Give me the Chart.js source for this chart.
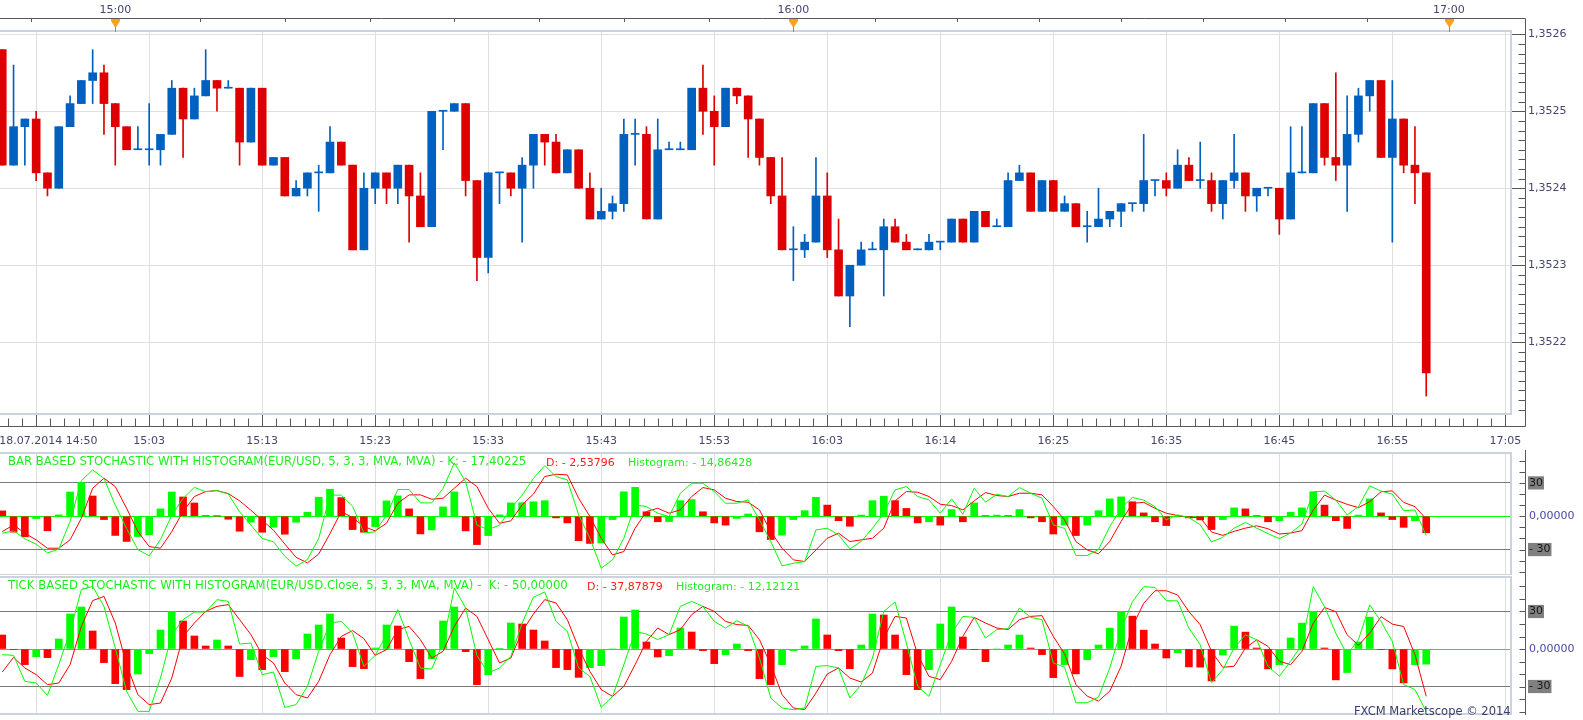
<!DOCTYPE html>
<html>
<head>
<meta charset="utf-8">
<title>EUR/USD - FXCM Marketscope</title>
<script src="https://cdn.jsdelivr.net/npm/chart.js@4.4.1/dist/chart.umd.min.js"></script>
<style>
html,body{margin:0;padding:0;background:#fff;}
body{width:1583px;height:720px;position:relative;overflow:hidden;font-family:"DejaVu Sans",Verdana,sans-serif;}
canvas{position:absolute;left:0;}
.ttl{position:absolute;font-size:11px;line-height:13px;white-space:pre;color:#1ef01e;}
.big{font-size:11.7px;}
.red{color:#ff1c1c;}
#copy{position:absolute;left:1354px;top:705px;font-size:11.5px;line-height:13px;color:#3c3c6e;white-space:pre;}
</style>
</head>
<body>
<canvas id="cMain" width="1583" height="452" style="top:0"></canvas>
<canvas id="cBar" width="1583" height="130" style="top:445px"></canvas>
<canvas id="cTick" width="1583" height="145" style="top:575px"></canvas>
<div class="ttl big" id="t1a" style="left:8px;top:455px"></div>
<div class="ttl red" id="t1b" style="left:546px;top:456px"></div>
<div class="ttl" id="t1c" style="left:628px;top:456px"></div>
<div class="ttl big" id="t2a" style="left:8px;top:579px"></div>
<div class="ttl red" id="t2b" style="left:587px;top:580px"></div>
<div class="ttl" id="t2c" style="left:676px;top:580px"></div>
<div id="copy">FXCM Marketscope © 2014</div>
<script>
// ---------------- data ----------------
const xTickIdx = [3,13,23,33,43,53,63,73,83,93,103,113,123,133];
const xTickLabels = ["       18.07.2014 14:50","15:03","15:13","15:23","15:33","15:43","15:53","16:03","16:14","16:25","16:35","16:45","16:55","17:05"];
const hourIdx = [10,70,128];
const hourLabels = ["15:00","16:00","17:00"];
const priceTicks = [1.3522,1.3523,1.3524,1.3525,1.3526];
const stochTicks = [30,0,-30];

const open = [1.35258,1.35243,1.35248,1.35249,1.35242,1.35240,1.35248,1.35251,1.35254,1.35255,
 1.35251,1.35248,1.35245,1.35245,1.35245,1.35247,1.35253,1.35249,1.35252,1.35254,
 1.35253,1.35253,1.35246,1.35253,1.35243,1.35244,1.35239,1.35240,1.35242,1.35242,
 1.35246,1.35243,1.35232,1.35240,1.35242,1.35240,1.35243,1.35239,1.35235,1.35250,
 1.35250,1.35251,1.35241,1.35231,1.35242,1.35242,1.35240,1.35243,1.35247,1.35246,
 1.35242,1.35245,1.35240,1.35236,1.35237,1.35238,1.35247,1.35247,1.35236,1.35245,
 1.35245,1.35245,1.35253,1.35250,1.35248,1.35253,1.35252,1.35249,1.35244,1.35239,
 1.35232,1.35232,1.35233,1.35239,1.35232,1.35226,1.35230,1.35232,1.35232,1.35235,
 1.35233,1.35232,1.35232,1.35233,1.35233,1.35236,1.35233,1.35237,1.35235,1.35235,
 1.35241,1.35242,1.35237,1.35241,1.35237,1.35238,1.35235,1.35235,1.35236,1.35237,
 1.35238,1.35238,1.35241,1.35241,1.35240,1.35243,1.35241,1.35241,1.35238,1.35241,
 1.35242,1.35239,1.35240,1.35240,1.35236,1.35242,1.35242,1.35251,1.35244,1.35243,
 1.35247,1.35252,1.35254,1.35244,1.35249,1.35243,1.35242];
const high = [1.35258,1.35256,1.35249,1.35250,1.35242,1.35248,1.35252,1.35254,1.35258,1.35256,
 1.35251,1.35248,1.35248,1.35251,1.35247,1.35254,1.35253,1.35253,1.35258,1.35254,
 1.35254,1.35253,1.35253,1.35253,1.35244,1.35244,1.35241,1.35242,1.35243,1.35248,
 1.35246,1.35243,1.35242,1.35242,1.35242,1.35243,1.35243,1.35242,1.35250,1.35250,
 1.35251,1.35251,1.35241,1.35242,1.35242,1.35242,1.35244,1.35247,1.35247,1.35247,
 1.35245,1.35245,1.35242,1.35240,1.35239,1.35249,1.35249,1.35248,1.35249,1.35246,
 1.35246,1.35253,1.35256,1.35252,1.35253,1.35253,1.35252,1.35249,1.35244,1.35244,
 1.35235,1.35234,1.35244,1.35242,1.35236,1.35230,1.35233,1.35233,1.35236,1.35236,
 1.35234,1.35232,1.35234,1.35233,1.35236,1.35236,1.35237,1.35237,1.35236,1.35242,
 1.35243,1.35242,1.35241,1.35241,1.35239,1.35238,1.35237,1.35240,1.35237,1.35238,
 1.35238,1.35247,1.35241,1.35242,1.35245,1.35244,1.35246,1.35242,1.35241,1.35247,
 1.35242,1.35240,1.35240,1.35240,1.35248,1.35248,1.35251,1.35251,1.35255,1.35252,
 1.35253,1.35254,1.35254,1.35254,1.35249,1.35248,1.35242];
const low = [1.35243,1.35243,1.35243,1.35241,1.35239,1.35240,1.35248,1.35251,1.35251,1.35247,
 1.35243,1.35245,1.35245,1.35243,1.35243,1.35247,1.35244,1.35249,1.35252,1.35250,
 1.35253,1.35243,1.35246,1.35243,1.35243,1.35239,1.35239,1.35239,1.35237,1.35242,
 1.35243,1.35232,1.35232,1.35238,1.35238,1.35238,1.35233,1.35235,1.35235,1.35245,
 1.35250,1.35239,1.35228,1.35229,1.35238,1.35239,1.35233,1.35240,1.35243,1.35242,
 1.35242,1.35240,1.35236,1.35236,1.35236,1.35237,1.35243,1.35236,1.35236,1.35245,
 1.35245,1.35245,1.35247,1.35243,1.35248,1.35251,1.35244,1.35243,1.35238,1.35232,
 1.35228,1.35231,1.35233,1.35231,1.35226,1.35222,1.35230,1.35232,1.35226,1.35233,
 1.35232,1.35232,1.35232,1.35232,1.35233,1.35233,1.35233,1.35235,1.35235,1.35235,
 1.35241,1.35237,1.35237,1.35237,1.35237,1.35235,1.35233,1.35235,1.35235,1.35235,
 1.35237,1.35237,1.35239,1.35239,1.35240,1.35241,1.35240,1.35237,1.35236,1.35240,
 1.35237,1.35237,1.35239,1.35234,1.35236,1.35242,1.35242,1.35243,1.35241,1.35237,
 1.35246,1.35250,1.35244,1.35233,1.35242,1.35238,1.35213];
const close = [1.35243,1.35248,1.35249,1.35242,1.35240,1.35248,1.35251,1.35254,1.35255,1.35251,
 1.35248,1.35245,1.35245,1.35245,1.35247,1.35253,1.35249,1.35252,1.35254,1.35253,
 1.35253,1.35246,1.35253,1.35243,1.35244,1.35239,1.35240,1.35242,1.35242,1.35246,
 1.35243,1.35232,1.35240,1.35242,1.35240,1.35243,1.35239,1.35235,1.35250,1.35250,
 1.35251,1.35241,1.35231,1.35242,1.35242,1.35240,1.35243,1.35247,1.35246,1.35242,
 1.35245,1.35240,1.35236,1.35237,1.35238,1.35247,1.35247,1.35236,1.35245,1.35245,
 1.35245,1.35253,1.35250,1.35248,1.35253,1.35252,1.35249,1.35244,1.35239,1.35232,
 1.35232,1.35233,1.35239,1.35232,1.35226,1.35230,1.35232,1.35232,1.35235,1.35233,
 1.35232,1.35232,1.35233,1.35233,1.35236,1.35233,1.35237,1.35235,1.35235,1.35241,
 1.35242,1.35237,1.35241,1.35237,1.35238,1.35235,1.35235,1.35236,1.35237,1.35238,
 1.35238,1.35241,1.35241,1.35240,1.35243,1.35241,1.35241,1.35238,1.35241,1.35242,
 1.35239,1.35240,1.35240,1.35236,1.35242,1.35242,1.35251,1.35244,1.35243,1.35247,
 1.35252,1.35254,1.35244,1.35249,1.35243,1.35242,1.35216];

// Bar based stochastic (panel 1)
const histBar = [4.8,-14.3,-18.5,-2.1,-13.1,1.2,21.8,30.4,18.2,-3,
 -17.3,-22.7,-18.2,-16.7,6.6,21.8,17.3,11.9,0.5,0.2,
 -2.7,-13.5,-5.4,-14.4,-9.9,-16.2,-5.4,3.6,17.1,24.3,
 16.8,-12,-14.4,-9.3,13.8,18.3,6.6,-15.9,-12.3,8.4,
 21.9,-13.2,-25.5,-17.4,1.2,12,12.2,13,14,-1.5,
 -6,-22,-24.5,-24,-3,22,26,4,-5,-4.8,
 14,15,4,-6,-8,-2,2,-14,-21,-17,
 -3,5,17,10,-4,-9,1,14,18,14,
 7,-6,-5,-8,6,-5,12,0.5,1,0.5,
 6,-1.5,-5,-16,-8,-17.4,-8,5,15.6,17.4,
 13,3,-5,-8.4,-0.5,-1.5,-3.3,-12,-3,7.5,
 6.6,0.5,-5,-4,3.6,7.5,22,10,-4,-11,
 1,15.6,3,-3,-10,-4,-14.86428];
const kBar = [-15.3,-13.2,-20.4,-25.2,-33,-29.7,-4.8,32,41.7,34,
 10,-11,-30,-35.7,-21,1,16,26,22,23,
 20,4,-8,-20,-23,-36,-45,-39,-20,19,
 19,9,-15,-14,1,24,24,12,12,25,
 48,31,-8,-12,-8,7,19,34,45.6,35.7,
 32.7,1.2,-19.8,-46.8,-39.3,-19.8,10.2,8.7,2.7,-0.3,
 20.7,29.7,29.7,22.2,11.7,11.7,14.7,-3.3,-22.8,-44.7,
 -42.3,-40.8,-12.3,-10.8,-16.8,-29.4,-22.8,-10.8,2.7,23.7,
 26.7,17.7,14.7,2.7,15.6,1.8,25.2,12.6,19.8,17.7,
 25.8,20.7,16.2,-7.8,-11,-35.3,-35.3,-30,-9.2,7.1,
 16.9,14.5,8.6,-3.3,1.2,-1.2,-7.7,-23.1,-19,-10.7,
 -5.6,-10.7,-15.7,-20.2,-15.1,-7.1,21.9,22.6,14.5,1.2,
 8.6,27.3,22.6,19.9,5,5.6,-17.40225];
const dBar = [-13.8,-7.8,-15.3,-21.3,-28.8,-28.8,-21.3,-1.8,25.2,34.2,
 26.7,7.2,-13.8,-27.3,-28.8,-13.8,4.2,17.7,22.2,23.1,
 20.4,13.8,5.4,-3.6,-12.6,-25,-37,-42,-34,-15.6,
 4.2,-1.2,-9.3,-13.2,-6.3,11.7,19.2,19.2,15.3,16.2,
 25.2,34.2,26.7,7.2,-6.3,-4.2,10.2,20,35.7,37.8,
 37.2,16.2,-0.3,-19.8,-34.8,-31.8,-10.8,4.2,7.2,2.7,
 5.7,17.7,25.8,23.7,16.2,13.2,12.6,5.7,-13.8,-28.8,
 -39.3,-40.8,-30.3,-19.8,-15.3,-22.8,-21.3,-19.8,-10.8,13.8,
 22.2,21.6,17.7,10.8,9.6,5.7,13.8,21.3,18.6,17.7,
 20.7,20.7,19.2,8.7,-3.3,-22.8,-30.3,-33.8,-22.6,-4.7,
 11.6,12.5,7.1,2.7,0.6,-1.2,-1.2,-14.2,-17.2,-13.6,
 -10.7,-8.6,-11.3,-16,-15.1,-13,5.6,19,14.5,10.7,
 7.7,13.1,22,22.8,12.5,8.6,-2.53796];

// Tick based stochastic (panel 2)
const histTick = [11.2,-0.5,-12.5,-6.1,-6.9,8,28,33.6,14.4,-10.9,
 -27.7,-32.5,-20,-3.7,15.2,30,22.4,10.4,2.4,7.2,
 2.4,-22,-8.5,-16.5,-6.1,-18.1,-7.7,12,19.2,28,
 8.8,-14.1,-15.7,0.8,19.2,18.4,-10.1,-23.7,-7.7,22.4,
 33.6,-2.1,-28.5,-20.5,0.5,20.8,20,15.2,6.4,-14.9,
 -16.5,-22.7,-14.9,-13.3,0,25.6,31.2,5.6,-6.4,-5.3,
 16.8,13.6,-1.3,-11.7,-4.5,4,-1.3,-23.7,-28.5,-12.5,
 -1.3,2.4,24,11.2,-1.3,-15.7,3.2,28,27.2,11.2,
 -20.5,-32.5,-16.5,20,33.6,9.6,-0.5,-10.1,0,3.2,
 11.2,0.8,-4.5,-22.9,-12.5,-19.9,-8.5,3.2,16.7,30,
 26.3,15.1,4,-7.2,-2.9,-14.3,-14.5,-25.5,-4.8,18.3,
 13.5,0.8,-15.9,-12.5,8.8,20.7,30,0.8,-24.7,-18.8,
 5.6,25.5,-0.5,-15.9,-27.1,-12.5,-12.12121];
const kTick = [-4.5,-5.1,-25.9,-27.2,-37.1,-12.5,14.1,47.5,50.1,34.1,
 0.8,-33.9,-49.9,-49.9,-23.2,11.5,23.5,29.6,29.6,39.5,
 38.1,4,4.8,-20.5,-18.4,-46.7,-44.5,-29.9,-1.9,20.8,
 22.1,12.8,-13.9,-5.1,11.5,31.5,7.5,-15.2,-16,4.8,
 48.8,32.8,-5.1,-19.2,-15.2,-5.9,20.8,41.5,45.6,22.1,
 14.1,-15.2,-21.9,-46.7,-37.9,-12.5,14.1,12,7.5,11.5,
 34.1,38.1,34.1,22.1,16.8,22.7,18.1,-7.2,-39.2,-47.2,
 -48.5,-47.2,-13.9,-13.3,-15.2,-39.2,-28.5,-7.2,30.1,37.6,
 4.8,-29.9,-37.9,-12.5,12.8,26.1,25.3,8.8,15.5,16.3,
 32.8,25.3,23.5,-11.2,-14.5,-43,-43,-38.5,-15.1,15.4,
 37.9,49.9,49.3,38.7,38.5,16.7,3.4,-27.1,-16.4,0.8,
 11.4,7.4,-13.8,-21.8,-9.8,3.4,49.9,33.9,12.7,-4.5,
 7.4,35.3,22,6.1,-28.4,-32.4,-50];
const dTick = [-18.4,-6.7,-15.2,-20.5,-28.5,-27.2,-12.5,18.1,38.7,42.1,
 20.8,-12.5,-36.5,-44.5,-43.2,-23.2,10.1,20.8,30.1,34.1,
 35.5,23.5,11.5,-4.5,-11.2,-27.2,-36.5,-39.2,-25.9,-4.5,
 10.1,14.7,8.3,-5.1,-0.5,15.5,18.1,7.5,-7.2,-1.9,
 18.1,32.8,26.1,7.5,-11.2,-7.2,14.1,28,39.5,36.8,
 23.5,0.8,-17.9,-32.5,-37.9,-29.9,-12.5,6.1,16.8,11.5,
 15.5,27.5,34.1,30.1,22.1,19.5,18.9,7.5,-12.5,-36.5,
 -47.2,-48.5,-35.2,-20,-15.2,-23.2,-26.4,-19.2,8.8,26.1,
 24.8,-4.5,-21.9,-24.5,-9.9,10.1,25.3,20.8,16.8,15.5,
 23.5,26.1,26.7,10.1,-4,-28.4,-37.7,-41.6,-33.7,-13.8,
 18,36.6,46.6,46.6,43.2,29.9,19.4,-1.9,-14.6,-13.8,
 0.8,7.4,2.1,-9.8,-12.5,-1.9,20.7,33.2,29.9,11.4,
 2.9,12.7,25.9,19.9,18,-4.5,-37.87879];

// ---------------- look ----------------
const FONT = "DejaVu Sans";
const X_MIN = -0.2, X_MAX = 133.5;
const PRICE_MIN = 1.352108, PRICE_MAX = 1.352603;
const UP = '#0060c0', DOWN = '#de0000';
const HG = '#00ff00', HR = '#ff0000';
const AXIS_TXT = '#45456f', AXIS_LINE = '#585858', GRID = '#dfdfdf', FRAME = '#cbd3de';
const RIGHT_W = 72;

Chart.defaults.font.family = FONT;
Chart.defaults.font.size = 11;

const fmt = v => (v < 0 ? '- ' : '') + Math.abs(v).toFixed(5).replace('.', ',');
const last = a => a[a.length - 1];
document.getElementById('t1a').textContent = 'BAR BASED STOCHASTIC WITH HISTOGRAM(EUR/USD, 5, 3, 3, MVA, MVA) - K: ' + fmt(last(kBar));
document.getElementById('t1b').textContent = 'D: ' + fmt(last(dBar));
document.getElementById('t1c').textContent = 'Histogram: ' + fmt(last(histBar));
document.getElementById('t2a').textContent = 'TICK BASED STOCHASTIC WITH HISTOGRAM(EUR/USD.Close, 5, 3, 3, MVA, MVA) -  K: ' + fmt(last(kTick));
document.getElementById('t2b').textContent = 'D: ' + fmt(last(dTick));
document.getElementById('t2c').textContent = 'Histogram: ' + fmt(last(histTick));

const idx = open.map((_, i) => i);
const candleColor = idx.map(i => close[i] >= open[i] ? UP : DOWN);

// keep label overflow from shrinking the plot area
const noPadX = (h) => s => { s.height = h; s.paddingLeft = 0; s.paddingRight = 0; };
const noPadY = s => { s.width = RIGHT_W; s.paddingTop = 0; s.paddingBottom = 0; };

const mainDeco = {
  id: 'mainDeco',
  afterDraw(chart) {
    const {ctx, chartArea: a} = chart;
    const x = chart.scales.x, y = chart.scales.y;
    const axR = Math.round(a.right) + 14 + 0.5;
    const topY = 18.5, botY = Math.round(a.bottom) + 13 + 0.5;
    ctx.save();
    ctx.lineWidth = 2; ctx.strokeStyle = FRAME;
    ctx.beginPath();
    ctx.moveTo(0, a.top - 1); ctx.lineTo(a.right, a.top - 1);
    ctx.lineTo(a.right, a.bottom + 1); ctx.lineTo(0, a.bottom + 1);
    ctx.stroke();
    ctx.lineWidth = 1; ctx.strokeStyle = AXIS_LINE;
    ctx.beginPath();
    ctx.moveTo(0, topY); ctx.lineTo(axR, topY); ctx.lineTo(axR, botY); ctx.lineTo(0, botY);
    ctx.stroke();
    const tt = [];
    for (let h = 0; h < hourIdx.length; h++) {
      const step = (h < hourIdx.length - 1 ? hourIdx[h + 1] - hourIdx[h] : hourIdx[h] - hourIdx[h - 1]) / 8;
      if (h === 0) for (let v = hourIdx[0] - step; v >= X_MIN; v -= step) tt.push(v);
      const end = h < hourIdx.length - 1 ? hourIdx[h + 1] : X_MAX;
      for (let v = hourIdx[h]; v < end - 1e-6; v += step) tt.push(v);
    }
    ctx.beginPath();
    tt.forEach(v => { const px = Math.round(x.getPixelForValue(v)) + 0.5; ctx.moveTo(px, topY); ctx.lineTo(px, topY + 3.5); });
    ctx.stroke();
    hourIdx.forEach(v => {
      const px = Math.round(x.getPixelForValue(v)) + 0.5;
      ctx.fillStyle = '#f7a21c';
      ctx.beginPath();
      ctx.moveTo(px - 4.5, 19); ctx.lineTo(px + 4.5, 19); ctx.lineTo(px + 4.5, 21);
      ctx.lineTo(px, 28); ctx.lineTo(px - 4.5, 21); ctx.closePath(); ctx.fill();
      ctx.strokeStyle = '#8a8a8a';
      ctx.beginPath(); ctx.moveTo(px, 27); ctx.lineTo(px, a.top); ctx.stroke();
    });
    ctx.strokeStyle = AXIS_LINE;
    const sub = (xTickIdx[1] - xTickIdx[0]) / 8;
    ctx.beginPath();
    for (let v = xTickIdx[0] - sub; v >= X_MIN; v -= sub) { const px = Math.round(x.getPixelForValue(v)) + 0.5; ctx.moveTo(px, botY - 8); ctx.lineTo(px, botY); }
    for (let j = 0; xTickIdx[0] + j * sub <= X_MAX; j++) {
      if (j % 8 === 0) continue;
      const px = Math.round(x.getPixelForValue(xTickIdx[0] + j * sub)) + 0.5; ctx.moveTo(px, botY - 8); ctx.lineTo(px, botY);
    }
    const ps = (priceTicks[1] - priceTicks[0]) / 8;
    for (let j = -16; j <= 48; j++) {
      if (j % 8 === 0) continue;
      const v = priceTicks[0] + j * ps;
      if (v < PRICE_MIN || v > PRICE_MAX) continue;
      const py = Math.round(y.getPixelForValue(v)) + 0.5;
      ctx.moveTo(axR - 7, py); ctx.lineTo(axR, py);
    }
    ctx.stroke();
    ctx.restore();
  }
};

new Chart(document.getElementById('cMain'), {
  type: 'bar',
  data: {
    datasets: [
      { label: 'High-Low', data: idx.map(i => ({x: i, y: [low[i], high[i]]})), backgroundColor: candleColor,
        barThickness: 1, grouped: false, minBarLength: 1, order: 2 },
      { label: 'Open-Close', data: idx.map(i => ({x: i, y: [open[i], close[i]]})), backgroundColor: candleColor,
        barThickness: 8, grouped: false, minBarLength: 1, order: 1 }
    ]
  },
  options: {
    responsive: false, animation: false, devicePixelRatio: 1, events: [],
    layout: { padding: 0, autoPadding: false },
    plugins: { legend: { display: false }, tooltip: { enabled: false } },
    scales: {
      x: {
        type: 'linear', position: 'bottom', min: X_MIN, max: X_MAX, offset: false,
        afterBuildTicks: s => { s.ticks = xTickIdx.map(v => ({value: v})); },
        afterFit: noPadX(39),
        grid: { color: GRID, tickColor: AXIS_LINE, tickLength: 13, offset: false },
        border: { display: false },
        ticks: { callback: (v, i) => xTickLabels[i], color: AXIS_TXT, padding: 9, maxRotation: 0, minRotation: 0, autoSkip: false }
      },
      xt: {
        type: 'linear', position: 'top', min: X_MIN, max: X_MAX, offset: false,
        afterBuildTicks: s => { s.ticks = hourIdx.map(v => ({value: v})); },
        afterFit: noPadX(32),
        grid: { display: false, offset: false }, border: { display: false },
        ticks: { callback: (v, i) => hourLabels[i], color: AXIS_TXT, padding: 7, maxRotation: 0, minRotation: 0, autoSkip: false }
      },
      y: {
        type: 'linear', position: 'right', min: PRICE_MIN, max: PRICE_MAX,
        afterBuildTicks: s => { s.ticks = priceTicks.map(v => ({value: v})); },
        afterFit: noPadY,
        grid: { color: GRID, tickColor: AXIS_LINE, tickLength: 14 },
        border: { display: false },
        ticks: { callback: v => v.toFixed(4).replace('.', ','), color: AXIS_TXT, padding: 3 }
      }
    }
  },
  plugins: [mainDeco]
});

const panelDeco = {
  id: 'panelDeco',
  afterDraw(chart) {
    const {ctx, chartArea: a} = chart;
    const y = chart.scales.y;
    const axR = Math.round(a.right) + 14 + 0.5;
    ctx.save();
    ctx.lineWidth = 2; ctx.strokeStyle = FRAME;
    ctx.beginPath();
    ctx.moveTo(0, a.top - 1); ctx.lineTo(a.right, a.top - 1);
    ctx.lineTo(a.right, a.bottom + 1); ctx.lineTo(0, a.bottom + 1);
    ctx.stroke();
    ctx.lineWidth = 1; ctx.strokeStyle = AXIS_LINE;
    ctx.beginPath();
    ctx.moveTo(axR, a.top - 4); ctx.lineTo(axR, a.bottom + 2);
    for (let v = -50; v <= 50; v += 10) {
      if (v < y.min || v > y.max) continue;
      const py = Math.round(y.getPixelForValue(v)) + 0.5;
      ctx.moveTo(axR - 6, py); ctx.lineTo(axR, py);
    }
    ctx.stroke();
    ctx.restore();
  }
};

function stochChart(id, hist, k, d, yMin, yMax, padTop, padBottom) {
  const hColor = hist.map((v, i) => (i > 0 && v >= hist[i - 1]) ? HG : HR);
  return new Chart(document.getElementById(id), {
    type: 'bar',
    data: {
      datasets: [
        { type: 'line', label: 'K', data: k.map((v, i) => ({x: i, y: v})), borderColor: HG, borderWidth: 1,
          pointRadius: 0, tension: 0, fill: false, order: 0 },
        { type: 'line', label: 'D', data: d.map((v, i) => ({x: i, y: v})), borderColor: HR, borderWidth: 1,
          pointRadius: 0, tension: 0, fill: false, order: 0 },
        { type: 'bar', label: 'Histogram', data: hist.map((v, i) => ({x: i, y: v})), backgroundColor: hColor,
          barThickness: 7, order: 1 }
      ]
    },
    options: {
      responsive: false, animation: false, devicePixelRatio: 1, events: [],
      layout: { padding: { top: padTop, bottom: padBottom, left: 0, right: 0 }, autoPadding: false },
      plugins: { legend: { display: false }, tooltip: { enabled: false } },
      scales: {
        x: {
          type: 'linear', position: 'bottom', min: X_MIN, max: X_MAX, offset: false,
          afterBuildTicks: s => { s.ticks = xTickIdx.map(v => ({value: v})); },
          afterFit: noPadX(0),
          grid: { color: GRID, drawTicks: false, offset: false }, border: { display: false },
          ticks: { display: false }
        },
        y: {
          type: 'linear', position: 'right', min: yMin, max: yMax,
          afterBuildTicks: s => { s.ticks = stochTicks.map(v => ({value: v})); },
          afterFit: noPadY,
          grid: { color: c => (c.tick && c.tick.value === 0) ? HG : '#7a7a7a', drawTicks: false },
          border: { display: false },
          ticks: {
            padding: 18,
            callback: v => v === 0 ? '0,00000' : (v < 0 ? '- ' + Math.abs(v) : String(v)),
            color: c => (c.tick && c.tick.value === 0) ? '#4848a0' : '#151515',
            showLabelBackdrop: c => !!(c.tick && c.tick.value !== 0),
            backdropColor: '#808080',
            backdropPadding: { top: 0, bottom: 0, left: 1, right: 1 }
          }
        }
      }
    },
    plugins: [panelDeco]
  });
}

stochChart('cBar', histBar, kBar, dBar, -52, 56, 9, 1);
stochChart('cTick', histTick, kTick, dTick, -51.2, 56.8, 3, 7);
</script>
</body>
</html>
